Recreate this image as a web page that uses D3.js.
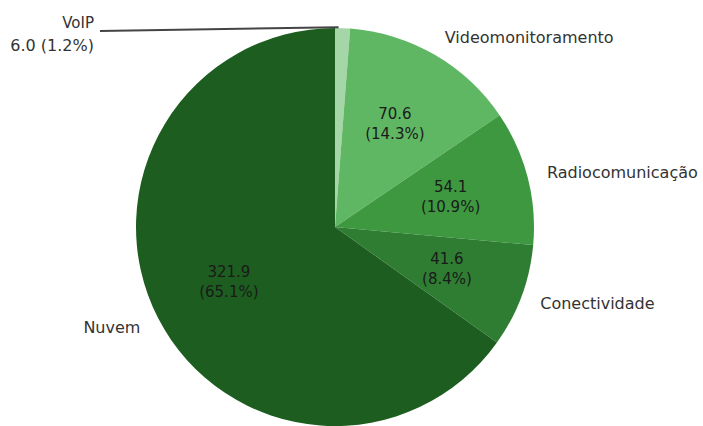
<!DOCTYPE html>
<html><head><meta charset="utf-8">
<script src="https://cdn.jsdelivr.net/npm/d3@7"></script>
<style>body{margin:0;background:#fff}svg{display:block}text{font-family:"DejaVu Sans",sans-serif}</style>
</head><body><svg id="c" width="703" height="426"></svg>
<script>
const categories = ["VoIP", "Videomonitoramento", "Radiocomunicação", "Conectividade", "Nuvem"];
const values = [6.0, 70.6, 54.1, 41.6, 321.9];
const colors = ["#a5d6a7", "#60b763", "#3d983f", "#2e7d32", "#1d5e20"];

const W = 703, H = 426, cx = 335, cy = 227, R = 199;
const svg = d3.select("#c");
const g = svg.append("g").attr("transform", `translate(${cx},${cy})`);
const total = d3.sum(values);
const data = categories.map((c, i) => ({c, v: values[i], col: colors[i]}));
const pie = d3.pie().value(d => d.v).sort(null);
const arcs = pie(data);
const arc = d3.arc().innerRadius(0).outerRadius(R);

g.selectAll("path").data(arcs).join("path")
  .attr("d", arc).attr("fill", d => d.data.col);

const fs = 15, fo = 16;
const pos = (a, k) => [Math.sin(a) * R * k, -Math.cos(a) * R * k];

arcs.forEach((d, i) => {
  const mid = (d.startAngle + d.endAngle) / 2;
  const pct = (d.data.v / total * 100).toFixed(1);
  if (d.data.c === "VoIP") {
    const p = pos(mid, 1.0);
    g.append("line").attr("x1", 100 - cx).attr("y1", 31 - cy)
      .attr("x2", p[0] - 4).attr("y2", p[1] - 1)
      .attr("stroke", "#444").attr("stroke-width", 2);
    g.append("text").attr("x", 94 - cx).attr("y", 23 - cy).attr("text-anchor", "end")
      .attr("dominant-baseline", "central").attr("font-size", fs).attr("fill", "#333").text(d.data.c);
    g.append("text").attr("x", 94 - cx).attr("y", 45 - cy).attr("text-anchor", "end")
      .attr("dominant-baseline", "central").attr("font-size", fo).attr("fill", "#333")
      .text(`${d.data.v.toFixed(1)} (${pct}%)`);
    return;
  }
  const lp = pos(mid, 1.1);
  g.append("text").attr("x", lp[0]).attr("y", lp[1])
    .attr("text-anchor", lp[0] > 0 ? "start" : "end")
    .attr("dominant-baseline", "central").attr("font-size", fo).attr("fill", "#333")
    .text(d.data.c);
  const ip = pos(mid, 0.6);
  const t = g.append("text").attr("text-anchor", "middle").attr("font-size", fs).attr("fill", "#1a1a1a");
  t.append("tspan").attr("x", ip[0]).attr("y", ip[1] - 10).attr("dominant-baseline", "central").text(d.data.v.toFixed(1));
  t.append("tspan").attr("x", ip[0]).attr("y", ip[1] + 10).attr("dominant-baseline", "central").text(`(${pct}%)`);
});
</script></body></html>
